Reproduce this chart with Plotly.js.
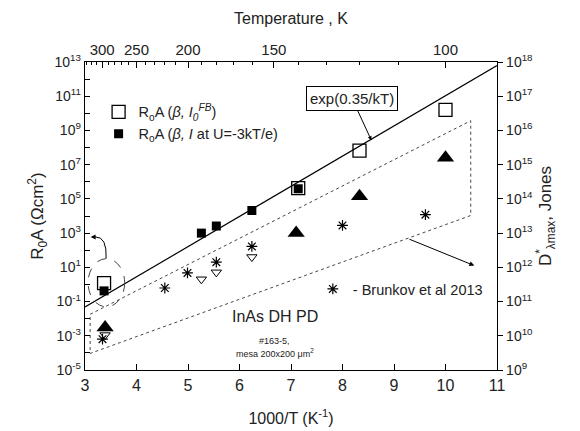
<!DOCTYPE html>
<html>
<head>
<meta charset="utf-8">
<script src="https://cdn.plot.ly/plotly-3.0.1.min.js"></script>
<style>html,body{margin:0;padding:0;background:#fff;}#chart{width:580px;height:431px;}</style>
</head>
<body>
<div id="chart"></div>
<script>
// ---- data (x = 1000/T, K^-1 ; y = R0A, Ohm cm^2) ----
const sqOpenX = [3.37, 7.14, 8.33, 10.0];
const sqOpenY = [1.2, 4.2e5, 6.6e7, 1.6e10];
const sqFillX = [3.37, 5.26, 5.55, 6.24, 7.14];
const sqFillY = [0.42, 1.0e3, 2.6e3, 2.1e4, 3.9e5];
const triFillX = [3.39, 7.10, 8.33, 10.0];
const triFillY = [3.0e-3, 1.0e3, 1.45e5, 2.5e7];
const triOpenX = [3.39, 5.26, 5.55, 6.24];
const triOpenY = [1.1e-3, 2.0, 5.1, 40];
const brunkovX = [3.34, 4.55, 4.99, 5.55, 6.24, 8.0, 9.61];
const brunkovY = [6.3e-4, 0.62, 4.7, 20, 166, 2.8e3, 1.2e4];
const expLineX = [3, 11];
const expLineY = [0.048, 6.2e12];
const regionX = [3.1, 10.49, 10.49, 3.1, 3.1];
const regionY = [0.018, 3.7e9, 1.07e4, 9.3e-5, 0.018];
// tick labels
const tempMajor = [300, 250, 200, 150, 100];
const tempMinor = [330, 320, 310, 290, 280, 270, 260, 240, 230, 220, 210, 190, 180, 170, 160, 140, 130, 120, 110];
const leftExp = [-5,-4,-3,-2,-1,0,1,2,3,4,5,6,7,8,9,10,11,12,13];
const rightExp = [9,10,11,12,13,14,15,16,17,18];

const FONT = 'Arial, "Liberation Sans", sans-serif';
const X_RANGE = [3, 11], Y_RANGE = [-5, 13];
// helpers converting data values to paper fractions (for decorative shapes)
const px = x => (x - X_RANGE[0]) / (X_RANGE[1] - X_RANGE[0]);
const py = v => (Math.log10(v) - Y_RANGE[0]) / (Y_RANGE[1] - Y_RANGE[0]);

// ellipse around the 300 K points and the curved pointer
const ell = {x0: 3.06, x1: 3.77, y0: 0.049, y1: 32};
const curve = [[3.41, 32], [3.43, 630], [3.2, 600]];

const traces = [
  {x: regionX, y: regionY, mode: 'lines', line: {color: '#333', width: 0.9, dash: 'dot'}, showlegend: false, hoverinfo: 'skip'},
  {x: expLineX, y: expLineY, mode: 'lines', line: {color: '#000', width: 1.2}, showlegend: false},
  {x: sqOpenX, y: sqOpenY, mode: 'markers', name: 'R<sub>o</sub>A (<i>β, I<sub>0</sub><sup>FB</sup></i>)',
   marker: {symbol: 'square-open', size: 13, color: '#000', line: {width: 1.3, color: '#000'}}, legend: 'legend'},
  {x: sqFillX, y: sqFillY, mode: 'markers', name: 'R<sub>o</sub>A (<i>β, I</i> at U=-3kT/e)',
   marker: {symbol: 'square', size: 9, color: '#000'}, legend: 'legend'},
  {x: triFillX, y: triFillY, mode: 'markers', showlegend: false,
   marker: {symbol: 'triangle-up', size: 15, color: '#000'}},
  {x: triOpenX, y: triOpenY, mode: 'markers', showlegend: false,
   marker: {symbol: 'triangle-down-open', size: 9, color: '#000', line: {width: 1}}},
  {x: brunkovX, y: brunkovY, mode: 'markers', name: '- Brunkov et al 2013', legend: 'legend2',
   marker: {symbol: 'asterisk-open', size: 9, color: '#000', line: {width: 1.2, color: '#000'}}},
  // invisible traces to anchor secondary axes
  {x: [3, 11], y: [1, 1], xaxis: 'x2', yaxis: 'y', mode: 'markers', marker: {opacity: 0}, showlegend: false, hoverinfo: 'skip'},
  {x: [3, 11], y: [1, 1], xaxis: 'x3', yaxis: 'y', mode: 'markers', marker: {opacity: 0}, showlegend: false, hoverinfo: 'skip'},
  {x: [3, 11], y: [1e10, 1e10], xaxis: 'x', yaxis: 'y2', mode: 'markers', marker: {opacity: 0}, showlegend: false, hoverinfo: 'skip'}
];

const layout = {
  width: 580, height: 431,
  margin: {l: 85, r: 83, t: 62, b: 61},
  paper_bgcolor: '#fff', plot_bgcolor: '#fff',
  font: {family: FONT, color: '#222', size: 14},
  xaxis: {
    range: X_RANGE, tickvals: [3,4,5,6,7,8,9,10,11], ticks: 'inside', ticklen: 6, tickcolor: '#000',
    showline: true, linecolor: '#000', linewidth: 1.3, showgrid: false, zeroline: false,
    tickfont: {size: 16}, title: {text: '1000/T (K<sup>-1</sup>)', font: {size: 16}, standoff: 20}
  },
  xaxis2: {
    overlaying: 'x', side: 'top', anchor: 'y', range: X_RANGE,
    tickvals: tempMajor.map(t => 1000 / t), ticktext: tempMajor.map(String),
    ticks: 'inside', ticklen: 6, tickcolor: '#000', showline: true, linecolor: '#000', linewidth: 1.3,
    showgrid: false, zeroline: false, tickfont: {size: 15},
    title: {text: 'Temperature , K', font: {size: 16}, standoff: 12}
  },
  xaxis3: {
    overlaying: 'x', side: 'top', anchor: 'y', range: X_RANGE,
    tickvals: tempMinor.map(t => 1000 / t), showticklabels: false,
    ticks: 'inside', ticklen: 3, tickcolor: '#000', showline: false, showgrid: false, zeroline: false
  },
  yaxis: {
    type: 'log', range: Y_RANGE, tickvals: leftExp.map(e => Math.pow(10, e)),
    ticktext: leftExp.map(e => (e % 2 !== 0) ? '10<sup>' + e + '</sup>' : ''),
    ticks: 'inside', ticklen: 5, tickcolor: '#000', showline: true, linecolor: '#000', linewidth: 1.3,
    showgrid: false, zeroline: false, tickfont: {size: 14},
    title: {text: 'R<sub>0</sub>A (Ωcm<sup>2</sup>)', font: {size: 17}, standoff: 6}
  },
  yaxis2: {
    type: 'log', overlaying: 'y', side: 'right', anchor: 'x', range: [9, 18],
    tickvals: rightExp.map(e => Math.pow(10, e)), ticktext: rightExp.map(e => '10<sup>' + e + '</sup>'),
    ticks: 'outside', ticklen: 5, tickcolor: '#000', showline: true, linecolor: '#000', linewidth: 1.3,
    showgrid: false, zeroline: false, tickfont: {size: 14},
    title: {text: 'D<sup>*</sup><sub>λmax</sub>, Jones', font: {size: 17}, standoff: 6}
  },
  legend: {
    x: 0.033, y: 0.89, xanchor: 'left', yanchor: 'top', bgcolor: 'rgba(0,0,0,0)',
    font: {size: 14.5, family: FONT, color: '#222'}, itemwidth: 30, tracegroupgap: 4
  },
  legend2: {
    x: 0.553, y: 0.315, xanchor: 'left', yanchor: 'top', bgcolor: 'rgba(0,0,0,0)',
    font: {size: 14.5, family: FONT, color: '#222'}, itemwidth: 30
  },
  shapes: [
    {type: 'circle', xref: 'paper', yref: 'paper', x0: px(ell.x0), x1: px(ell.x1), y0: py(ell.y0), y1: py(ell.y1),
     line: {color: '#444', width: 1, dash: 'dash'}},
    {type: 'path', xref: 'paper', yref: 'paper',
     path: 'M ' + px(curve[0][0]) + ' ' + py(curve[0][1]) + ' Q ' + px(curve[1][0]) + ' ' + py(curve[1][1]) +
           ' ' + px(curve[2][0]) + ' ' + py(curve[2][1]),
     line: {color: '#000', width: 1}}
  ],
  annotations: [
    {x: 8.56, y: 8.43, xref: 'x', yref: 'y', axref: 'x', ayref: 'y', ax: 8.19, ay: 10.84,
     text: 'exp(0.35/kT)', showarrow: true, arrowhead: 2, arrowsize: 0.8, arrowwidth: 1, arrowcolor: '#000',
     bordercolor: '#000', borderwidth: 1, borderpad: 3, bgcolor: '#fff', font: {size: 15, color: '#222'}},
    {x: 10.56, y: 1.1, xref: 'x', yref: 'y', axref: 'x', ayref: 'y', ax: 9.27, ay: 2.68,
     text: '', showarrow: true, arrowhead: 2, arrowsize: 1, arrowwidth: 1, arrowcolor: '#000'},
    {x: 3.11, y: 2.77, xref: 'x', yref: 'y', axref: 'x', ayref: 'y', ax: 3.21, ay: 2.78,
     text: '', showarrow: true, arrowhead: 2, arrowsize: 1, arrowwidth: 1, arrowcolor: '#000'},
    {x: 0.46, y: 0.14, xref: 'paper', yref: 'paper', text: 'InAs DH PD', showarrow: false,
     font: {size: 16, color: '#222'}},
    {x: 0.46, y: 0.07, xref: 'paper', yref: 'paper', text: '#163-5,', showarrow: false,
     font: {size: 9, color: '#222'}},
    {x: 0.46, y: 0.03, xref: 'paper', yref: 'paper', text: 'mesa 200x200 μm<sup>2</sup>', showarrow: false,
     font: {size: 9, color: '#222'}}
  ]
};

Plotly.newPlot('chart', traces, layout, {staticPlot: true, displayModeBar: false});
</script>
</body>
</html>
